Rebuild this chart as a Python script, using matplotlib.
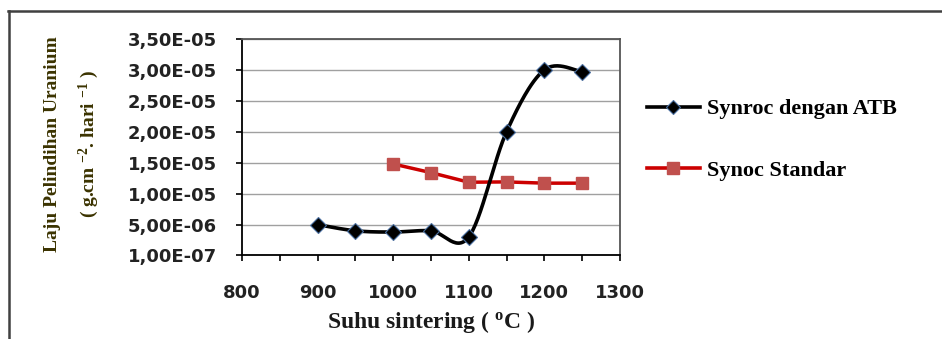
import numpy as np
import matplotlib
matplotlib.use("Agg")
import matplotlib.pyplot as plt
from matplotlib.lines import Line2D

# ---- data ----
suhu_atb = [900, 950, 1000, 1050, 1100, 1150, 1200, 1250]
laju_atb = [5.0e-6, 4.0e-6, 3.8e-6, 4.0e-6, 3.0e-6, 2.0e-5, 3.0e-5, 2.97e-5]
suhu_std = [1000, 1050, 1100, 1150, 1200, 1250]
laju_std = [1.48e-5, 1.34e-5, 1.185e-5, 1.19e-5, 1.17e-5, 1.17e-5]
y_ticks = [1e-7, 5e-6, 1e-5, 1.5e-5, 2e-5, 2.5e-5, 3e-5, 3.5e-5]
y_ticklabels = ["1,00E-07", "5,00E-06", "1,00E-05", "1,50E-05", "2,00E-05",
                "2,50E-05", "3,00E-05", "3,50E-05"]
x_ticks = [800, 850, 900, 950, 1000, 1050, 1100, 1150, 1200, 1250, 1300]
x_ticklabels = ["800", "", "900", "", "1000", "", "1100", "", "1200", "", "1300"]
label_atb = "Synroc dengan ATB"
label_std = "Synoc Standar"


def smooth(xs, ys, n=30):
    # Bezier smoothing in the style of spreadsheet "smoothed line"
    xs = np.asarray(xs, float); ys = np.asarray(ys, float)
    P = np.column_stack([xs, ys])
    out = []
    for i in range(len(P) - 1):
        p0 = P[i - 1] if i > 0 else P[i]
        p1 = P[i]; p2 = P[i + 1]
        p3 = P[i + 2] if i + 2 < len(P) else P[i + 1]
        c1 = p1 + (p2 - p0) / 6.0
        c2 = p2 - (p3 - p1) / 6.0
        t = np.linspace(0, 1, n)[:, None]
        seg = ((1 - t) ** 3) * p1 + 3 * ((1 - t) ** 2) * t * c1 + 3 * (1 - t) * t ** 2 * c2 + t ** 3 * p2
        out.append(seg if i == 0 else seg[1:])
    S = np.vstack(out)
    return S[:, 0], S[:, 1]


plt.rcParams['mathtext.fontset'] = 'custom'
plt.rcParams['mathtext.rm'] = 'Liberation Serif:bold'
plt.rcParams['mathtext.it'] = 'Liberation Serif:bold'
plt.rcParams['mathtext.bf'] = 'Liberation Serif:bold'

fig = plt.figure(figsize=(9.42, 3.39), dpi=100)
ax = fig.add_axes([0.257, 0.248, 0.401, 0.637])

sx, sy = smooth(suhu_atb, laju_atb)
ax.plot(sx, sy, color='black', lw=2.6, zorder=4, solid_capstyle='round')
ax.plot(suhu_atb, laju_atb, ls='none', marker='D', ms=8.5, color='black',
        mec='#4a6fa0', mew=0.8, zorder=5)
ax.plot(suhu_std, laju_std, color='#CC0000', lw=2.5, marker='s', ms=8.5,
        mfc='#C0504D', mec='#C0504D', zorder=3)

ax.set_xlim(800, 1300)
ax.set_ylim(1e-7, 3.5e-5)
ax.set_xticks(x_ticks)
ax.set_xticklabels(x_ticklabels)
ax.set_yticks(y_ticks)
ax.set_yticklabels(y_ticklabels)
ax.grid(axis='y', color='#A0A0A0', lw=1.0)
ax.set_axisbelow(True)
for lab in ax.get_xticklabels() + ax.get_yticklabels():
    lab.set_fontweight('bold')
    lab.set_fontsize(13)
    lab.set_color('#222222')
ax.tick_params(axis='both', direction='out', length=4, width=1.2, color='black')
ax.tick_params(axis='y', pad=14)
ax.tick_params(axis='x', pad=17)
for s in ['left', 'bottom']:
    ax.spines[s].set_color('black'); ax.spines[s].set_linewidth(1.3)
for s in ['top', 'right']:
    ax.spines[s].set_color('#555555'); ax.spines[s].set_linewidth(1.3)

fig.text(0.458, 0.05, "Suhu sintering ( $^{\\mathrm{o}}$C )", ha='center', va='center',
         family='Liberation Serif', fontweight='bold', fontsize=17, color='#1a1a1a')
fig.text(0.056, 0.575, "Laju Pelindihan Uranium", rotation=90, ha='center', va='center',
         family='Liberation Serif', fontweight='bold', fontsize=14, color='#3b3300')
fig.text(0.094, 0.575, "( g.cm $^{-2}$. hari $^{-1}$ )", rotation=90, ha='center', va='center',
         family='Liberation Serif', fontweight='bold', fontsize=14, color='#3b3300')

handles = [
    Line2D([], [], color='black', lw=2.6, marker='D', ms=7, mfc='black', mec='#4a6fa0', mew=0.8),
    Line2D([], [], color='#CC0000', lw=2.6, marker='s', ms=9, mfc='#C0504D', mec='#C0504D'),
]
fig.legend(handles, [label_atb, label_std], loc='upper left',
           bbox_to_anchor=(0.677, 0.735), frameon=False,
           prop={'family': 'Liberation Serif', 'weight': 'bold', 'size': 16},
           handlelength=2.4, handletextpad=0.3, labelspacing=1.85, borderaxespad=0)

# outer frame (top and left edges visible)
fig.add_artist(Line2D([8 / 942, 1.0], [1 - 10.5 / 339, 1 - 10.5 / 339], transform=fig.transFigure,
                      color='#404040', lw=1.8))
fig.add_artist(Line2D([9 / 942, 9 / 942], [0, 1 - 10.5 / 339], transform=fig.transFigure,
                      color='#404040', lw=1.8))

fig.savefig('out.png', dpi=100, facecolor='white')
